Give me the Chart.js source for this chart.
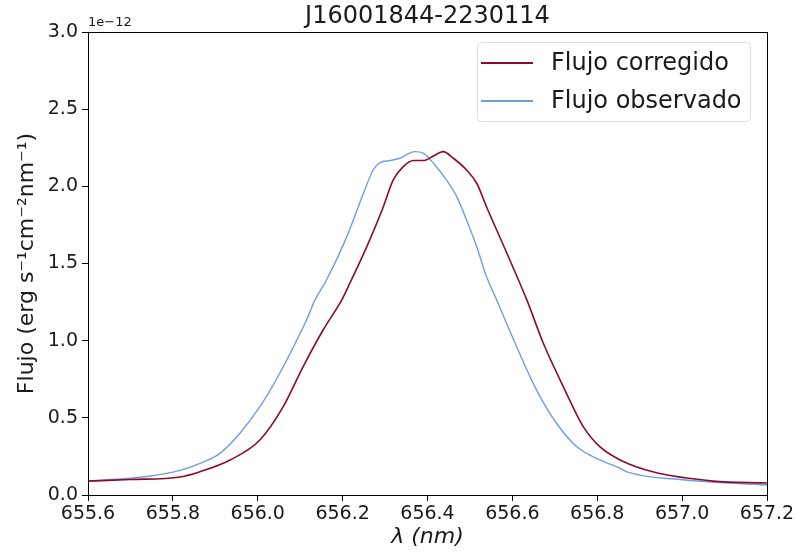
<!DOCTYPE html>
<html>
<head>
<meta charset="utf-8">
<script src="https://cdn.jsdelivr.net/npm/chart.js@4"></script>
<style>
  html, body { margin: 0; padding: 0; background: #fff; }
  #wrap { width: 797px; height: 554px; }
</style>
</head>
<body>
<div id="wrap"><canvas id="chart-slot" width="797" height="554"></canvas></div>
<script>
// wavelength (nm) and flux (units of 1e-12 erg s^-1 cm^-2 nm^-1)
const lambdaCorr = [655.600, 655.699, 655.817, 655.864, 655.935, 656.005, 656.060, 656.107, 656.154, 656.198,
  656.217, 656.257, 656.296, 656.319, 656.343, 656.367, 656.390, 656.414, 656.437, 656.461,
  656.492, 656.516, 656.539, 656.563, 656.594, 656.634, 656.673, 656.720, 656.767, 656.806,
  656.854, 656.931, 657.073, 657.200];
const fluxCorr = [0.090, 0.100, 0.117, 0.151, 0.227, 0.356, 0.572, 0.832, 1.069, 1.264,
  1.372, 1.609, 1.868, 2.040, 2.128, 2.167, 2.167, 2.197, 2.225, 2.182,
  2.106, 2.020, 1.868, 1.717, 1.523, 1.264, 0.983, 0.702, 0.443, 0.313,
  0.227, 0.150, 0.090, 0.078];

const lambdaObs = [655.600, 655.739, 655.817, 655.864, 655.911, 655.958, 656.005, 656.052, 656.100, 656.115,
  656.135, 656.162, 656.210, 656.249, 656.272, 656.288, 656.312, 656.335, 656.370, 656.390,
  656.414, 656.445, 656.469, 656.492, 656.516, 656.539, 656.563, 656.610, 656.657, 656.704,
  656.752, 656.806, 656.854, 656.870, 656.995, 657.200];
const fluxObs = [0.090, 0.120, 0.160, 0.205, 0.270, 0.400, 0.572, 0.789, 1.048, 1.134,
  1.264, 1.393, 1.674, 1.955, 2.106, 2.154, 2.167, 2.182, 2.225, 2.215,
  2.150, 2.040, 1.933, 1.782, 1.609, 1.415, 1.264, 0.961, 0.680, 0.465,
  0.313, 0.227, 0.173, 0.150, 0.100, 0.065];

const xTicks = [655.6, 655.8, 656.0, 656.2, 656.4, 656.6, 656.8, 657.0, 657.2];
const yTicks = [0.0, 0.5, 1.0, 1.5, 2.0, 2.5, 3.0];

const seriesLabels = ['Flujo corregido', 'Flujo observado'];
const seriesColors = ['#8c0b2b', '#6f9de3'];

const FONT = '"DejaVu Sans", sans-serif';

const toPoints = (xs, ys) => xs.map((x, i) => ({ x: x, y: ys[i] }));

// frame, title, offset text and legend drawn on top
const decorations = {
  id: 'decorations',
  afterDraw(chart) {
    const { ctx, chartArea: a } = chart;
    ctx.save();
    ctx.strokeStyle = '#000';
    ctx.lineWidth = 1;
    ctx.strokeRect(Math.round(a.left) + 0.5, Math.round(a.top) + 0.5,
      Math.round(a.right - a.left), Math.round(a.bottom - a.top));

    ctx.fillStyle = '#1a1a1a';
    ctx.font = '24px ' + FONT;
    ctx.textAlign = 'center';
    ctx.textBaseline = 'middle';
    ctx.fillText('J16001844-2230114', (a.left + a.right) / 2, 17);

    ctx.font = '13px ' + FONT;
    ctx.textAlign = 'left';
    ctx.textBaseline = 'alphabetic';
    ctx.fillText('1e\u221212', a.left, 26);

    // legend
    const bx = 477, by = 42, bw = 273, bh = 79;
    ctx.fillStyle = 'rgba(255,255,255,0.8)';
    ctx.strokeStyle = 'rgba(0,0,0,0.12)';
    ctx.beginPath();
    ctx.roundRect(bx + 0.5, by + 0.5, bw, bh, 4);
    ctx.fill();
    ctx.stroke();
    ctx.font = '24px ' + FONT;
    ctx.textBaseline = 'middle';
    chart.data.datasets.forEach((ds, i) => {
      const yy = 63 + i * 38;
      ctx.strokeStyle = ds.borderColor;
      ctx.lineWidth = 2;
      ctx.beginPath();
      ctx.moveTo(481, yy);
      ctx.lineTo(533, yy);
      ctx.stroke();
      ctx.fillStyle = '#1a1a1a';
      ctx.fillText(ds.label, 551, yy + 1);
    });
    ctx.restore();
  }
};

const ctx = document.getElementById('chart-slot');
new Chart(ctx, {
  type: 'line',
  data: {
    datasets: [
      {
        label: seriesLabels[0],
        data: toPoints(lambdaCorr, fluxCorr),
        borderColor: seriesColors[0],
        borderWidth: 1.6,
        pointRadius: 0,
        cubicInterpolationMode: 'monotone'
      },
      {
        label: seriesLabels[1],
        data: toPoints(lambdaObs, fluxObs),
        borderColor: seriesColors[1],
        borderWidth: 1.4,
        pointRadius: 0,
        cubicInterpolationMode: 'monotone'
      }
    ]
  },
  options: {
    responsive: false,
    animation: false,
    events: [],
    layout: { padding: { top: 32, right: 30, left: 0, bottom: 0 } },
    plugins: {
      legend: { display: false },
      title: { display: false },
      tooltip: { enabled: false }
    },
    scales: {
      x: {
        type: 'linear',
        min: 655.6,
        max: 657.2,
        afterBuildTicks: s => { s.ticks = xTicks.map(v => ({ value: v })); },
        afterFit: s => { s.height = 59; },
        grid: { drawOnChartArea: false, tickLength: 6, tickColor: '#000', tickWidth: 1 },
        border: { display: true, color: '#000' },
        ticks: {
          color: '#1a1a1a',
          font: { family: FONT, size: 19 },
          padding: 2,
          maxRotation: 0,
          autoSkip: false,
          callback: v => v.toFixed(1)
        },
        title: {
          display: true,
          text: '\u03bb (nm)',
          color: '#1a1a1a',
          font: { family: FONT, size: 22, style: 'italic' },
          padding: { top: 0, bottom: 4 }
        }
      },
      y: {
        type: 'linear',
        min: 0,
        max: 3.0,
        afterBuildTicks: s => { s.ticks = yTicks.map(v => ({ value: v })); },
        afterFit: s => { s.width = 88; },
        grid: { drawOnChartArea: false, tickLength: 6, tickColor: '#000', tickWidth: 1 },
        border: { display: true, color: '#000' },
        ticks: {
          color: '#1a1a1a',
          font: { family: FONT, size: 19 },
          padding: 4,
          autoSkip: false,
          callback: v => v.toFixed(1)
        },
        title: {
          display: true,
          text: 'Flujo (erg s\u207b\u00b9cm\u207b\u00b2nm\u207b\u00b9)',
          color: '#1a1a1a',
          font: { family: FONT, size: 22 },
          padding: { top: 14, bottom: 0 }
        }
      }
    }
  },
  plugins: [decorations]
});
</script>
</body>
</html>
